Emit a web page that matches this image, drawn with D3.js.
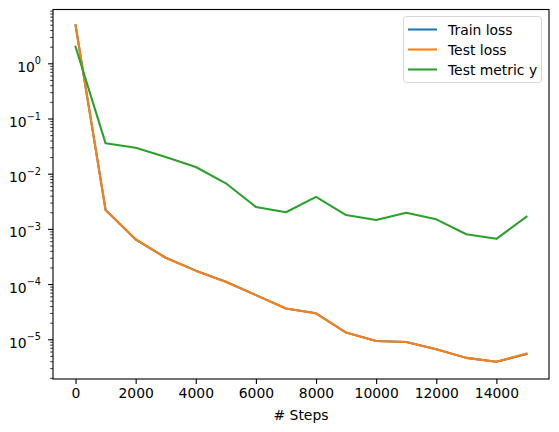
<!DOCTYPE html>
<html>
<head>
<meta charset="utf-8">
<script src="https://cdn.jsdelivr.net/npm/d3@7"></script>
<style>
  body { margin: 0; background: #fff; }
  svg { font-family: "DejaVu Sans", sans-serif; }
</style>
</head>
<body>
<script>
var w = 559;
var h = 432;

// data
var steps = [0, 1000, 2000, 3000, 4000, 5000, 6000, 7000, 8000, 9000, 10000, 11000, 12000, 13000, 14000, 15000];
var trainLoss = [4.85, 2.2e-3, 6.4e-4, 3.0e-4, 1.75e-4, 1.1e-4, 6.3e-5, 3.6e-5, 2.95e-5, 1.32e-5, 9.3e-6, 8.9e-6, 6.6e-6, 4.6e-6, 3.9e-6, 5.4e-6];
var testLoss = [4.9, 2.2e-3, 6.5e-4, 3.0e-4, 1.75e-4, 1.1e-4, 6.3e-5, 3.6e-5, 2.95e-5, 1.32e-5, 9.3e-6, 8.9e-6, 6.6e-6, 4.6e-6, 3.9e-6, 5.5e-6];
var testMetric = [2.0, 0.0355, 0.0295, 0.020, 0.0132, 0.0067, 2.5e-3, 2.0e-3, 3.8e-3, 1.78e-3, 1.45e-3, 1.96e-3, 1.49e-3, 8.0e-4, 6.6e-4, 1.66e-3];
var seriesNames = ["Train loss", "Test loss", "Test metric y"];
var xTicks = [0, 2000, 4000, 6000, 8000, 10000, 12000, 14000];
var yExps = [0, -1, -2, -3, -4, -5];

var colors = ["#1f77b4", "#ff7f0e", "#2ca02c"];
var series = [trainLoss, testLoss, testMetric];

// plot area (window.top is reserved, so use other names)
var pL = 53, pR = 549, pT = 9.5, pB = 379;

var svg = d3.select("body").append("svg")
            .attr("width", w)
            .attr("height", h);

var x = d3.scaleLinear().domain([-750, 15750]).range([pL, pR]);
var y = d3.scaleLog().domain([Math.pow(10, -5.72), Math.pow(10, 0.975)]).range([pB, pT]);

// lines
var line = d3.line()
             .x(function(d, i) { return x(steps[i]); })
             .y(function(d) { return y(d); });

series.forEach(function(s, k) {
  svg.append("path")
     .datum(s)
     .attr("d", line)
     .attr("fill", "none")
     .attr("stroke", colors[k])
     .attr("stroke-width", 2.08)
     .attr("stroke-linejoin", "round")
     .attr("stroke-linecap", "square");
});

// frame
svg.append("rect")
   .attr("x", pL)
   .attr("y", pT)
   .attr("width", pR - pL)
   .attr("height", pB - pT)
   .attr("fill", "none")
   .attr("stroke", "black")
   .attr("stroke-width", 1.1);

// x axis
var xAxis = svg.append("g")
               .attr("transform", "translate(0," + pB + ")")
               .call(d3.axisBottom(x).tickValues(xTicks).tickSize(4.9).tickPadding(4.5).tickFormat(d3.format("d")));
xAxis.select(".domain").remove();
xAxis.selectAll("line").attr("stroke-width", 1.1);
xAxis.selectAll("text").attr("font-size", "13.9px").attr("font-family", "DejaVu Sans").attr("fill", "black");

svg.append("text")
   .attr("x", (pL + pR) / 2)
   .attr("y", 420)
   .attr("text-anchor", "middle")
   .attr("font-size", "13.9px")
   .text("# Steps");

// y axis minor ticks
var minor = [];
for (var e = -6; e <= 0; e++) {
  for (var m = 2; m <= 9; m++) {
    var v = m * Math.pow(10, e);
    if (v >= y.domain()[0] && v <= y.domain()[1]) minor.push(v);
  }
}
var yMinor = svg.append("g")
                .attr("transform", "translate(" + pL + ",0)")
                .call(d3.axisLeft(y).tickValues(minor).tickSize(2.8).tickFormat(""));
yMinor.select(".domain").remove();
yMinor.selectAll("line").attr("stroke-width", 0.8);

var yMajor = svg.append("g")
                .attr("transform", "translate(" + pL + ",0)")
                .call(d3.axisLeft(y).tickValues(yExps.map(function(e) { return Math.pow(10, e); })).tickSize(4.9).tickFormat(""));
yMajor.select(".domain").remove();
yMajor.selectAll("line").attr("stroke-width", 1.1);

// y tick labels like 10^-3
yExps.forEach(function(e) {
  var t = svg.append("text")
             .attr("x", pL - 12)
             .attr("y", y(Math.pow(10, e)) + 8.5)
             .attr("text-anchor", "end")
             .attr("font-size", "13.9px");
  t.append("tspan").text("10");
  t.append("tspan")
   .attr("dy", -7.5)
   .attr("font-size", "9.7px")
   .text(e < 0 ? "\u2212" + (-e) : "" + e);
});

// legend
var lg = svg.append("g");
lg.append("rect")
  .attr("x", 403.5)
  .attr("y", 16.5)
  .attr("width", 138)
  .attr("height", 66)
  .attr("rx", 3)
  .attr("fill", "white")
  .attr("fill-opacity", 0.8)
  .attr("stroke", "#d6d6d6")
  .attr("stroke-width", 1);

seriesNames.forEach(function(name, k) {
  var yy = 29.5 + k * 20;
  lg.append("line")
    .attr("x1", 408).attr("x2", 437)
    .attr("y1", yy).attr("y2", yy)
    .attr("stroke", colors[k])
    .attr("stroke-width", 2.08);
  lg.append("text")
    .attr("x", 448)
    .attr("y", yy + 5)
    .attr("font-size", "13.9px")
    .text(name);
});
</script>
</body>
</html>
